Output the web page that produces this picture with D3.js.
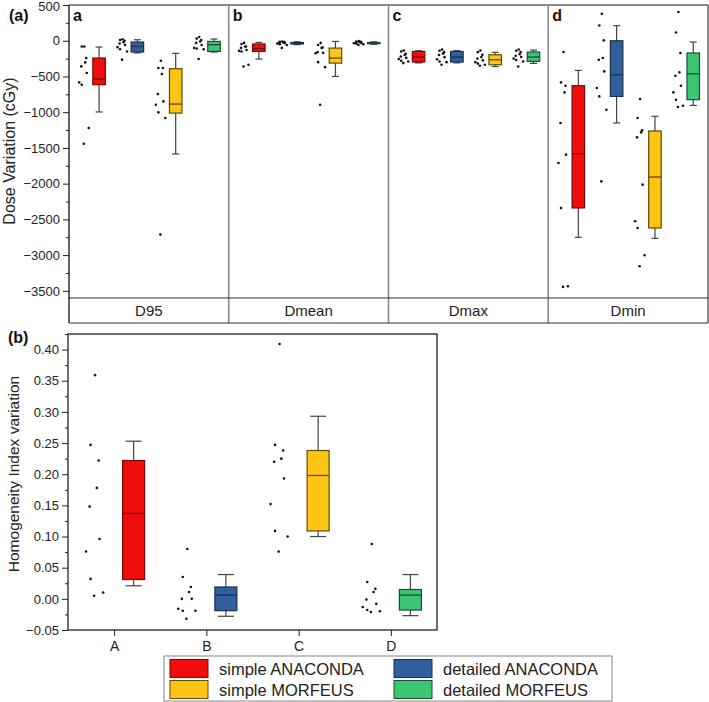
<!DOCTYPE html>
<html>
<head>
<meta charset="utf-8">
<script src="https://cdn.jsdelivr.net/npm/d3@7.9.0/dist/d3.min.js"></script>
<style>
  body { margin: 0; background: #fff; }
  svg { display: block; font-family: Arial, 'Liberation Sans', sans-serif; }
</style>
</head>
<body>
<svg id="chart" width="709" height="702"></svg>
<script>
const metrics = ['D95', 'Dmean', 'Dmax', 'Dmin'];
const panelLetters = ['a', 'b', 'c', 'd'];
const models = ['simple ANACONDA', 'detailed ANACONDA', 'simple MORFEUS', 'detailed MORFEUS'];
const hiCategories = ['A', 'B', 'C', 'D'];
const doseTicks = [500, 0, -500, -1000, -1500, -2000, -2500, -3000, -3500];
const hiTicks = [0.40, 0.35, 0.30, 0.25, 0.20, 0.15, 0.10, 0.05, 0.00, -0.05];

// dose variation (cGy), one array per model
const d95Points = [
  [-80, -80, -242, -303, -359, -452, -583, -615, -1221, -1441],
  [20, 10, 0, -20, -40, -60, -90, -120, -150, -265],
  [-280, -382, -382, -466, -746, -849, -895, -1002, -1082, -2713],
  [52, 30, 10, -10, -30, -60, -100, -110, -120, -256]
];
// [whisker low, q1, median, q3, whisker high]
const d95Boxes = [
  [-997, -615, -536, -242, -88],
  [-170, -158, -80, -18, 14],
  [-1585, -1012, -886, -392, -177],
  [-158, -150, -56, -10, 24]
];
const dmeanPoints = [
  [-30, -46, -80, -80, -100, -130, -140, -150, -336, -360],
  [-10, -15, -20, -25, -30, -30, -40, -50, -60, -100],
  [-30, -60, -95, -100, -160, -170, -175, -300, -370, -895],
  [-5, -10, -15, -20, -25, -30, -35, -40, -50, -60]
];
const dmeanBoxes = [
  [-256, -150, -110, -46, -24],
  [-55, -45, -35, -25, -15],
  [-500, -313, -243, -103, -10],
  [-50, -42, -35, -25, -15]
];
const dmaxPoints = [
  [-136, -150, -182, -200, -220, -240, -257, -280, -290, -313],
  [-122, -140, -160, -180, -200, -230, -260, -290, -300, -336],
  [-136, -160, -196, -228, -250, -275, -300, -320, -336, -350],
  [-122, -140, -160, -190, -210, -228, -250, -270, -290, -360]
];
const dmaxBoxes = [
  [-310, -298, -228, -150, -140],
  [-310, -298, -228, -150, -140],
  [-360, -336, -266, -196, -163],
  [-317, -289, -228, -158, -131]
];
const dminPoints = [
  [-158, -583, -629, -723, -1151, -1594, -1711, -2340, -3436, -3445],
  [378, 214, 5, -242, -266, -429, -662, -779, -965, -1968],
  [-816, -1082, -1254, -1282, -1352, -2014, -2527, -2620, -3002, -3156],
  [401, 116, -172, -443, -490, -629, -723, -825, -909, -928]
];
const dminBoxes = [
  [-2751, -2340, -1580, -629, -415],
  [-1151, -779, -476, 0, 210],
  [-2765, -2620, -1907, -1263, -1058],
  [-905, -825, -462, -172, -18]
];

// homogeneity index variation, one array per category
const hiPoints = [
  [0.359, 0.247, 0.222, 0.178, 0.148, 0.096, 0.076, 0.032, 0.010, 0.005],
  [0.080, 0.035, 0.019, 0.011, 0.000, 0.000, -0.016, -0.019, -0.019, -0.032],
  [0.409, 0.247, 0.238, 0.225, 0.220, 0.193, 0.152, 0.109, 0.100, 0.076],
  [0.088, 0.027, 0.016, 0.011, -0.001, -0.008, -0.013, -0.018, -0.020, -0.021]
];
const hiBoxes = [
  [0.021, 0.031, 0.137, 0.222, 0.253],
  [-0.028, -0.019, 0.006, 0.019, 0.039],
  [0.100, 0.109, 0.198, 0.238, 0.293],
  [-0.027, -0.018, 0.006, 0.015, 0.039]
];

const colors = ['#f20d0d', '#2f609c', '#ffc414', '#3cc674'];
const strokes = ['#6e0a0a', '#1c2f4a', '#5e4a0a', '#1b4d2e'];
const jitter = [0.1, -0.4, 0.5, 0.3, -0.5, 0.6, -0.9, -0.4, 1, 0];

const svg = d3.select('#chart');

function drawBox(g, cx, y, box, w, fill, stroke, capW) {
  const [lo, q1, med, q3, hi] = box;
  g.append('line').attr('x1', cx).attr('x2', cx).attr('y1', y(hi)).attr('y2', y(lo))
    .attr('stroke', '#444').attr('stroke-width', 1.2);
  [lo, hi].forEach((v) => {
    g.append('line').attr('x1', cx - capW / 2).attr('x2', cx + capW / 2)
      .attr('y1', y(v)).attr('y2', y(v)).attr('stroke', '#444').attr('stroke-width', 1.2);
  });
  g.append('rect').attr('x', cx - w / 2).attr('y', y(q3)).attr('width', w)
    .attr('height', Math.max(1, y(q1) - y(q3)))
    .attr('fill', fill).attr('stroke', stroke).attr('stroke-width', 1.2);
  g.append('line').attr('x1', cx - w / 2).attr('x2', cx + w / 2)
    .attr('y1', y(med)).attr('y2', y(med)).attr('stroke', stroke).attr('stroke-width', 1.3);
}

function drawPoints(g, cx, y, pts, spread) {
  g.selectAll(null).data(pts).enter().append('circle')
    .attr('cx', (d, i) => cx + jitter[i] * spread)
    .attr('cy', (d) => y(d))
    .attr('r', 1.3)
    .attr('fill', '#111');
}

// ---- (a) dose variation ----
const yDose = d3.scaleLinear().domain([-3600, 500]).range([298, 5]);
const xPanel = d3.scaleBand().domain(metrics).range([69, 708]);
const xModel = d3.scaleBand().domain(models).range([0, xPanel.bandwidth()]).paddingOuter(0.085);
const doseData = [
  [d95Points, d95Boxes],
  [dmeanPoints, dmeanBoxes],
  [dmaxPoints, dmaxBoxes],
  [dminPoints, dminBoxes]
];

const topG = svg.append('g');
topG.append('line').attr('x1', 69).attr('x2', 708).attr('y1', 5).attr('y2', 5)
  .attr('stroke', '#666').attr('stroke-width', 1.5);
topG.append('line').attr('x1', 708).attr('x2', 708).attr('y1', 5).attr('y2', 323)
  .attr('stroke', '#666').attr('stroke-width', 1.5);
metrics.slice(1).forEach((m) => {
  topG.append('line').attr('x1', xPanel(m)).attr('x2', xPanel(m)).attr('y1', 5).attr('y2', 323)
    .attr('stroke', '#8a8a8a').attr('stroke-width', 1.6);
});
[298, 323].forEach((yy) => {
  topG.append('line').attr('x1', 69).attr('x2', 708).attr('y1', yy).attr('y2', yy)
    .attr('stroke', '#333').attr('stroke-width', 1.2);
});

metrics.forEach((m, i) => {
  const g = topG.append('g').attr('transform', `translate(${xPanel(m)},0)`);
  const [pts, boxes] = doseData[i];
  models.forEach((mod, j) => {
    const c = xModel(mod) + xModel.bandwidth() / 2;
    const step = xModel.step();
    drawPoints(g, c - step * 0.2, yDose, pts[j], 5);
    drawBox(g, c + step * 0.2, yDose, boxes[j], 12.5, colors[j], strokes[j], 7);
  });
  g.append('text').attr('x', 4).attr('y', 21).text(panelLetters[i])
    .attr('font-size', 16).attr('font-weight', 'bold').attr('fill', '#111');
  g.append('text').attr('x', xPanel.bandwidth() / 2).attr('y', 316).attr('text-anchor', 'middle')
    .attr('font-size', 15).attr('fill', '#222').text(m);
});

const doseMinor = d3.range(-3500, 500, 500).map((v) => v + 250);
const yAxisTop = topG.append('g').attr('transform', 'translate(69,0)')
  .call(d3.axisLeft(yDose).tickValues(doseTicks).tickSize(6).tickPadding(3).tickFormat(d3.format('d')));
yAxisTop.append('g')
  .call(d3.axisLeft(yDose).tickValues(doseMinor).tickSize(3).tickFormat(''));
yAxisTop.selectAll('.domain').remove();
yAxisTop.selectAll('text').attr('font-size', 13).attr('fill', '#222').attr('font-family', null);
yAxisTop.selectAll('line').attr('stroke', '#222');
// keep the top label inside the page
yAxisTop.selectAll('.tick text').filter((d) => d === 500).attr('dy', '0.45em');
topG.append('line').attr('x1', 69).attr('x2', 69).attr('y1', 5).attr('y2', 323)
  .attr('stroke', '#111').attr('stroke-width', 1.3);

svg.append('text').attr('transform', 'translate(15,151) rotate(-90)').attr('text-anchor', 'middle')
  .attr('font-size', 16).attr('fill', '#222').text('Dose Variation (cGy)');
svg.append('text').attr('x', 9).attr('y', 21).attr('font-size', 16).attr('font-weight', 'bold')
  .attr('fill', '#111').text('(a)');

// ---- (b) homogeneity index ----
const yHI = d3.scaleLinear().domain([-0.05, 0.425]).range([630, 334]);
const xHI = d3.scalePoint().domain(hiCategories).range([68, 437]).padding(0.5);
const botG = svg.append('g');

hiCategories.forEach((cat, i) => {
  const c = xHI(cat);
  drawPoints(botG, c - 20, yHI, hiPoints[i], 9);
  drawBox(botG, c + 19.5, yHI, hiBoxes[i], 22, colors[i], strokes[i], 16);
});

const hiMinor = d3.range(-0.05, 0.42, 0.05).map((v) => v + 0.025);
const yAxisBot = botG.append('g').attr('transform', 'translate(68,0)')
  .call(d3.axisLeft(yHI).tickValues(hiTicks).tickSize(6).tickPadding(3).tickFormat(d3.format('.2f')));
yAxisBot.append('g')
  .call(d3.axisLeft(yHI).tickValues(hiMinor).tickSize(3).tickFormat(''));
const xAxisBot = botG.append('g').attr('transform', 'translate(0,630)')
  .call(d3.axisBottom(xHI).tickSize(6).tickPadding(5));
[yAxisBot, xAxisBot].forEach((ax) => {
  ax.selectAll('.domain').remove();
  ax.selectAll('text').attr('font-size', 13).attr('fill', '#222').attr('font-family', null);
  ax.selectAll('line').attr('stroke', '#222');
});
xAxisBot.selectAll('text').attr('font-size', 14);
botG.append('rect').attr('x', 68).attr('y', 334).attr('width', 369).attr('height', 296)
  .attr('fill', 'none').attr('stroke', '#222').attr('stroke-width', 1.3);

svg.append('text').attr('transform', 'translate(19,474) rotate(-90)').attr('text-anchor', 'middle')
  .attr('font-size', 15.5).attr('fill', '#222').text('Homogeneity Index variation');
svg.append('text').attr('x', 8).attr('y', 343).attr('font-size', 16).attr('font-weight', 'bold')
  .attr('fill', '#111').text('(b)');

// ---- legend ----
const leg = svg.append('g');
leg.append('rect').attr('x', 164).attr('y', 656).attr('width', 448).attr('height', 45)
  .attr('fill', '#fff').attr('stroke', '#999').attr('stroke-width', 1.2);
const legCols = [170, 394];
const legRows = [659.5, 680.5];
// order: simple ANACONDA, detailed ANACONDA / simple MORFEUS, detailed MORFEUS
models.forEach((mod, j) => {
  const col = j % 2;
  const row = Math.floor(j / 2);
  leg.append('rect').attr('x', legCols[col]).attr('y', legRows[row]).attr('width', 38).attr('height', 18)
    .attr('fill', colors[j]).attr('stroke', strokes[j]).attr('stroke-width', 1);
  leg.append('text').attr('x', legCols[col] + 49).attr('y', legRows[row] + 15)
    .attr('font-size', 16.5).attr('fill', '#222').text(mod);
});
</script>
</body>
</html>
